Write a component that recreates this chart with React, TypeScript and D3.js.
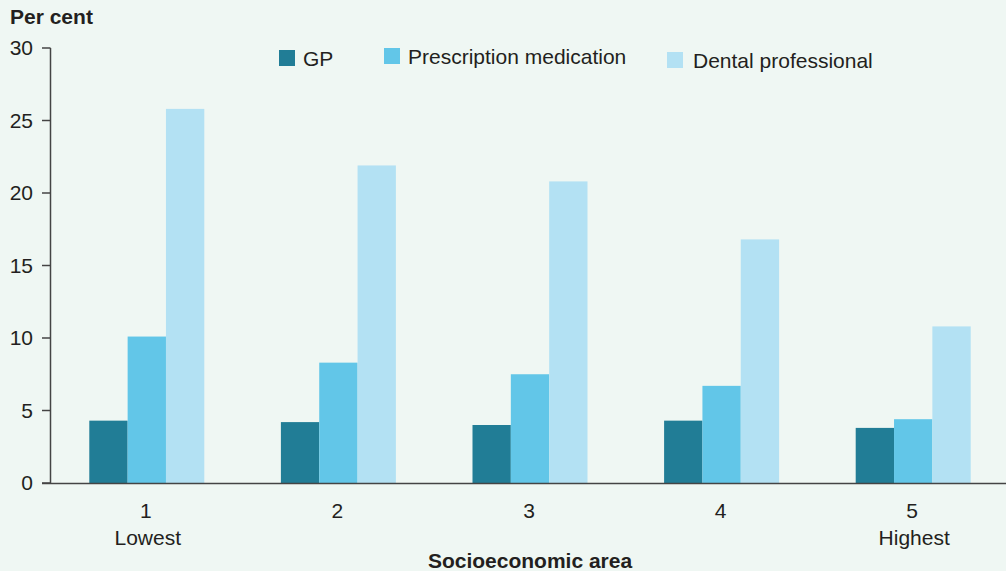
import React from "react";
import * as d3 from "d3";

const categories = ["1", "2", "3", "4", "5"];
const subLabels = ["Lowest", "", "", "", "Highest"];
const seriesNames = ["GP", "Prescription medication", "Dental professional"];
const gpValues = [4.3, 4.2, 4.0, 4.3, 3.8];
const rxValues = [10.1, 8.3, 7.5, 6.7, 4.4];
const dentalValues = [25.8, 21.9, 20.8, 16.8, 10.8];
const yTicks = [0, 5, 10, 15, 20, 25, 30];
const colors = ["#217d96", "#62c6e8", "#b3e1f3"];

const W = 1006;
const H = 571;
const FONT = "'Liberation Sans', Arial, sans-serif";
const TEXT = "#231f20";

export default function App() {
  const series = [gpValues, rxValues, dentalValues];
  const y = d3.scaleLinear().domain([0, 30]).range([483, 48]);
  const x = d3.scaleBand<string>().domain(categories).range([51, 1009]).paddingInner(0).paddingOuter(0);
  const groupW = 115;
  const xs = d3.scaleBand<number>().domain([0, 1, 2]).range([0, groupW]);

  const legend = [
    { sx: 279, sy: 50, tx: 303, ty: 66 },
    { sx: 384, sy: 48, tx: 408, ty: 64 },
    { sx: 667, sy: 52, tx: 693, ty: 68 },
  ];

  return (
    <svg width={W} height={H} style={{ position: "absolute", left: 0, top: 0, display: "block" }}>
      <rect x={0} y={0} width={W} height={H} fill="#eff7f3" />
      <text x={10} y={24} fontFamily={FONT} fontSize={21} fontWeight="bold" fill={TEXT}>Per cent</text>
      {yTicks.map((t) => (
        <g key={t}>
          <line x1={42} x2={50.5} y1={y(t)} y2={y(t)} stroke="#444" strokeWidth={1.5} />
          <text x={33} y={y(t) + 7} textAnchor="end" fontFamily={FONT} fontSize={21} fill={TEXT}>{t}</text>
        </g>
      ))}
      {categories.map((c, i) => {
        const cx = (x(c) as number) + x.bandwidth() / 2;
        const gx = cx - groupW / 2;
        return (
          <g key={c}>
            {series.map((vals, s) => (
              <rect
                key={s}
                x={gx + (xs(s) as number)}
                y={y(vals[i])}
                width={xs.bandwidth()}
                height={483 - y(vals[i])}
                fill={colors[s]}
              />
            ))}
            <text x={cx - 1} y={518} textAnchor="middle" fontFamily={FONT} fontSize={21} fill={TEXT}>{c}</text>
            {subLabels[i] && (
              <text x={cx + 1} y={545} textAnchor="middle" fontFamily={FONT} fontSize={21} fill={TEXT}>{subLabels[i]}</text>
            )}
          </g>
        );
      })}
      <line x1={50.5} x2={50.5} y1={48} y2={483} stroke="#444" strokeWidth={1.5} />
      <line x1={42} x2={1006} y1={483.5} y2={483.5} stroke="#444" strokeWidth={1.5} />
      <text x={530} y={568} textAnchor="middle" fontFamily={FONT} fontSize={21} fontWeight="bold" fill={TEXT}>Socioeconomic area</text>
      {seriesNames.map((n, i) => (
        <g key={n}>
          <rect x={legend[i].sx} y={legend[i].sy} width={16} height={16} fill={colors[i]} />
          <text x={legend[i].tx} y={legend[i].ty} fontFamily={FONT} fontSize={21} fill={TEXT}>{n}</text>
        </g>
      ))}
    </svg>
  );
}
